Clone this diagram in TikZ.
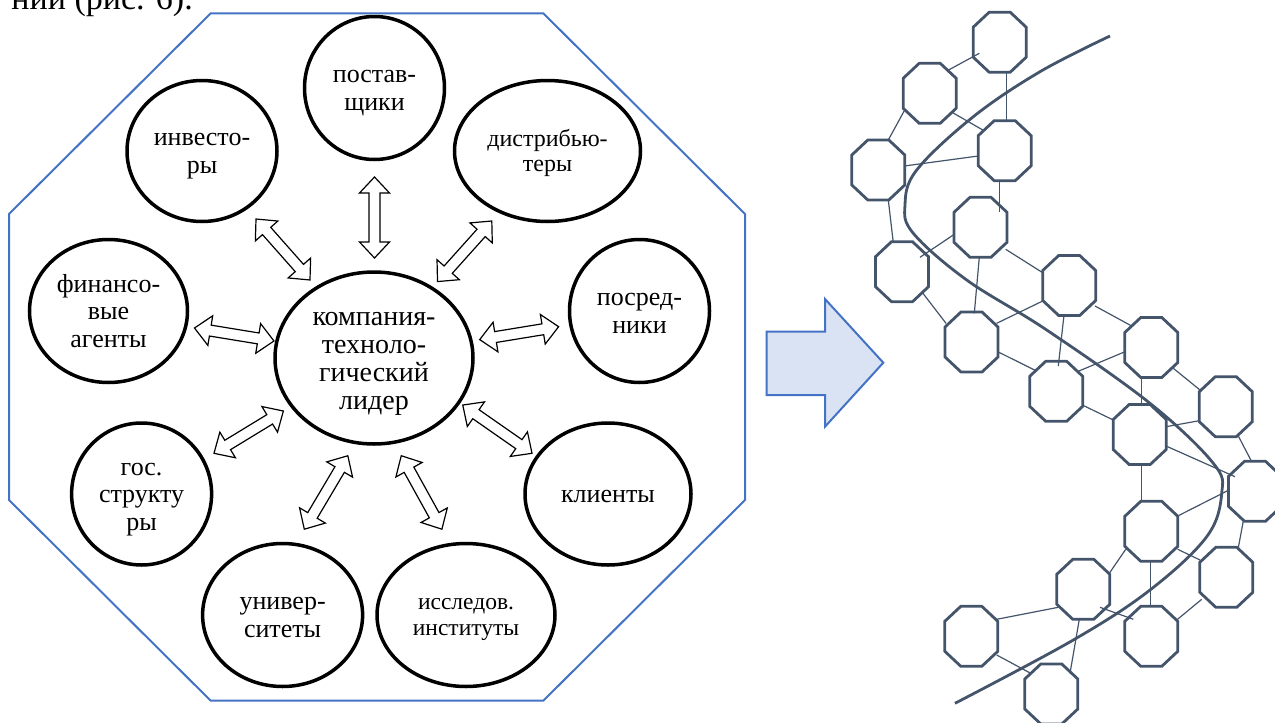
\documentclass[tikz,border=0pt]{standalone}
\usepackage{fontspec}
\setmainfont{Liberation Serif}
\usetikzlibrary{calc,shapes.geometric}
\definecolor{octblue}{HTML}{4472C4}
\definecolor{arrfill}{HTML}{DAE3F3}
\definecolor{slate}{HTML}{44546A}
\tikzset{
 circ/.style={ellipse, draw=black, line width=3.5pt, inner sep=0pt, align=center, font=\fontsize{26}{27.5}\selectfont,
   text height=50.6pt, text depth=5.7pt},
 blockarrow/.style={draw=black, line width=1.2pt, fill=white, line join=miter},
 octbox/.style={rectangle, inner sep=0pt, minimum width=53pt, minimum height=60pt},
 octline/.style={draw=slate, line width=2.8pt, fill=white, line join=miter},
 netline/.style={draw=slate, line width=1.2pt},
 wave/.style={draw=slate, line width=2.8pt},
 frame/.style={draw=octblue, line width=2pt},
 bigarrow/.style={draw=octblue, fill=arrfill, line width=2pt, line join=miter},
}
\newcommand\blockarr[2]{%
 \draw[blockarrow] let \p1=(#1), \p2=(#2), \n1={atan2(\y2-\y1,\x2-\x1)}, \n2={veclen(\x2-\x1,\y2-\y1)}, \n3={\n2-16} in
 [shift={(\p1)}, rotate=\n1] (0pt,0pt) -- (16pt,15pt) -- (16pt,5.5pt) -- (\n3,5.5pt) -- (\n3,15pt) -- (\n2,0pt) -- (\n3,-15pt) -- (\n3,-5.5pt) -- (16pt,-5.5pt) -- (16pt,-15pt) -- cycle;}
\newcommand\octa[2]{\node[octbox] (#1) at (#2) {};
 \draw[octline] (#1.center) ++(-10.5,-30) -- ++(21,0) -- ++(16,15) -- ++(0,30) -- ++(-16,15) -- ++(-21,0) -- ++(-16,-15) -- ++(0,-30) -- cycle;}
\newcommand\nl[4]{\draw[netline] ($(#1)+(#2)$) -- ($(#3)+(#4)$);}
\begin{document}
\begin{tikzpicture}[x=1pt,y=-1pt]
\useasboundingbox (0,0) rectangle (1275,723);
\begin{scope}
\clip (0,0) rectangle (1275,723);
\node[anchor=base east, inner sep=0pt, font=\fontsize{34}{34}\selectfont] (cap) at (193,9.5) {ний (рис. 6).};
\end{scope}
% frame octagon
\draw[frame] (210.7,13.3) -- (543.3,13.3) -- (745,214) -- (745,500) -- (543.3,700.7) -- (210.7,700.7) -- (9,500) -- (9,214) -- cycle;
% ellipses
\node[circ, minimum width=198pt, minimum height=172pt, font=\fontsize{28}{28}\selectfont, text height=108.9pt, text depth=6.2pt] (lead) at (374,358) {компания-\\техноло-\\гический\\лидер};
\node[circ, minimum width=140pt, minimum height=143pt] (post) at (374.5,88) {постав-\\щики};
\node[circ, minimum width=150pt, minimum height=141pt] (inv) at (202,151) {инвесто-\\ры};
\node[circ, minimum width=186pt, minimum height=141pt, font=\fontsize{24}{25.5}\selectfont, text height=46.9pt, text depth=5.3pt] (dist) at (547.5,151) {дистрибью-\\теры};
\node[circ, minimum width=158pt, minimum height=143pt, text height=78.1pt] (fin) at (108.5,311) {финансо-\\вые\\агенты};
\node[circ, minimum width=140pt, minimum height=143pt] (posr) at (639.5,311) {посред-\\ники};
\node[circ, minimum width=140pt, minimum height=142pt, text height=78.1pt] (gos) at (141.6,494) {гос.\\структу\\ры};
\node[circ, minimum width=166pt, minimum height=142pt, text height=23.1pt] (kli) at (608,494) {клиенты};
\node[circ, minimum width=160pt, minimum height=143pt] (univ) at (282.6,615) {универ-\\ситеты};
\node[circ, minimum width=178pt, minimum height=143pt, font=\fontsize{23.5}{26}\selectfont, text height=46.9pt, text depth=5.2pt] (issl) at (466,615) {исследов.\\институты};
% arrow ends
\coordinate (a1s) at (374.5,177); \coordinate (a1e) at (374.5,258);
\coordinate (a2s) at (256,219);   \coordinate (a2e) at (310,280);
\coordinate (a3s) at (491.8,221); \coordinate (a3e) at (437.5,281.6);
\coordinate (a4s) at (194.5,328); \coordinate (a4e) at (274,341);
\coordinate (a5s) at (558.6,326.7); \coordinate (a5e) at (479.7,339.6);
\coordinate (a6s) at (214,453.3); \coordinate (a6e) at (283.4,411);
\coordinate (a7s) at (532,453.3); \coordinate (a7e) at (462.7,405);
\coordinate (a8s) at (304.3,529.2); \coordinate (a8e) at (347.9,455.6);
\coordinate (a9s) at (441.9,529.2); \coordinate (a9e) at (401.2,455.6);
\blockarr{a1s}{a1e}\blockarr{a2s}{a2e}\blockarr{a3s}{a3e}
\blockarr{a4s}{a4e}\blockarr{a5s}{a5e}\blockarr{a6s}{a6e}
\blockarr{a7s}{a7e}\blockarr{a8s}{a8e}\blockarr{a9s}{a9e}
% big arrow
\draw[bigarrow] (766.7,331.7) -- (825,331.7) -- (825,299) -- (883.3,362.7) -- (825,426.7) -- (825,395) -- (766.7,395) -- cycle;
% network
\octa{o1}{999.7,42.2}
\octa{o2}{929.7,93.3}
\octa{o3}{1004.7,150.7}
\octa{o4}{878.3,170}
\octa{o5}{980.5,227.3}
\octa{o6}{902,271.7}
\octa{o7}{1069.2,285.5}
\octa{o8}{971.5,342}
\octa{o9}{1151.3,347.5}
\octa{o10}{1056.2,391.3}
\octa{o11}{1225.8,406.7}
\octa{o12}{1139.7,434.5}
\octa{o13}{1255,491.3}
\octa{o14}{1151.3,531.3}
\octa{o15}{1226.3,577.3}
\octa{o16}{1083.3,589.3}
\octa{o17}{1151.3,636.3}
\octa{o18}{971.3,636.3}
\octa{o19}{1051.3,694}
\nl{o1}{-20.4,11.1}{o2}{17.6,-22.6}
\nl{o1}{7,29.5}{o3}{2,-30}
\nl{o2}{23,19.4}{o3}{-20.7,-20}
\nl{o2}{-25.4,17.4}{o4}{10,-30}
\nl{o4}{26,-4}{o3}{-26.4,5.3}
\nl{o3}{-5.4,30}{o5}{18.8,-15.6}
\nl{o4}{10,30}{o6}{-8.7,-29}
\nl{o5}{-26.2,7}{o6}{18,-14.4}
\nl{o5}{25.2,22}{o7}{-26.5,-12.8}
\nl{o5}{-1.2,30}{o8}{2.8,-28.7}
\nl{o6}{19.7,20}{o8}{-25.5,-18.7}
\nl{o7}{-26.5,15.5}{o8}{25.2,-18.7}
\nl{o7}{25.8,20.5}{o9}{-19.6,-21.5}
\nl{o7}{-5.2,29.5}{o10}{2.1,-25.3}
\nl{o8}{26.2,9.7}{o10}{-20.2,-20.6}
\nl{o9}{-26.3,4.2}{o10}{21.1,-19.6}
\nl{o9}{-9.6,29.2}{o12}{2,-29.5}
\nl{o9}{22,20.8}{o11}{-25.8,-16.7}
\nl{o10}{26.1,13.7}{o12}{-26.4,-14.5}
\nl{o12}{26.3,-7.8}{o11}{-26.5,14}
\nl{o12}{26.3,11.5}{o13}{-20,-14.6}
\nl{o11}{12.5,29.3}{o13}{-3.3,-29.6}
\nl{o12}{2,29.5}{o14}{-9.6,-29.6}
\nl{o14}{26.4,-15.3}{o13}{-26,-1.3}
\nl{o13}{-11.7,29.7}{o15}{12,-29.6}
\nl{o14}{26.4,18}{o15}{-26.3,-17.3}
\nl{o14}{-25.6,18}{o16}{26,-16}
\nl{o14}{-0.6,29.7}{o17}{-0.6,-29.6}
\nl{o15}{-24.6,22}{o17}{25.4,-16.3}
\nl{o16}{16.7,18}{o17}{-18,-17}
\nl{o16}{-25,18}{o18}{25.4,-17}
\nl{o16}{-4,30}{o19}{18.7,-20.7}
\nl{o18}{25.4,18.7}{o19}{-20.6,-20.7}
% wave
\draw[wave] plot[smooth, tension=0.6] coordinates {(1110,36) (1040,71.7) (973.3,116.7) (916.7,170) (905,205) (913.3,233.3) (966.7,280) (1046.7,330) (1150,403.3) (1213.3,463.3) (1221.7,493.3) (1206.7,536.7) (1150,590) (1073.3,640) (955,703.3)};
\end{tikzpicture}
\end{document}
